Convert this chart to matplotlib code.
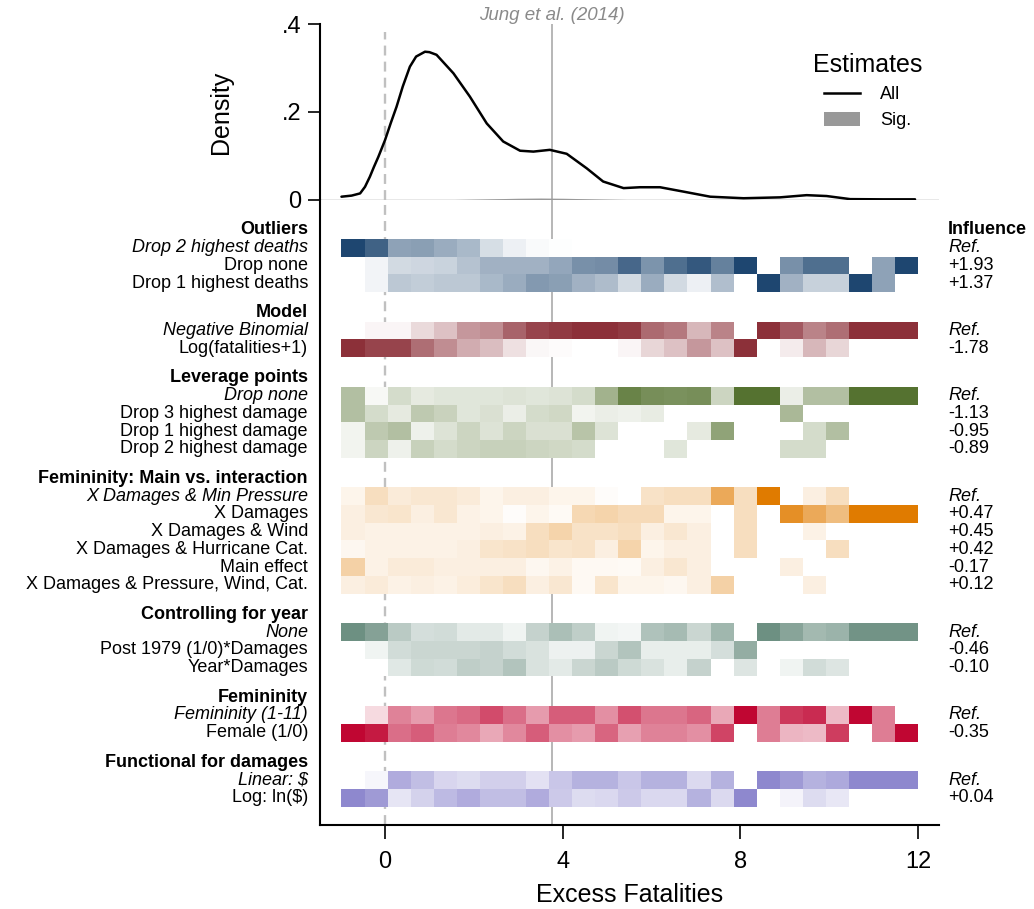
import numpy as np
import matplotlib
matplotlib.use('Agg')
import matplotlib.pyplot as plt
from matplotlib.patches import Patch
from matplotlib.lines import Line2D
from matplotlib.colors import LinearSegmentedColormap
import matplotlib.transforms as mtransforms

plt.rcParams['font.family'] = ['Liberation Sans', 'DejaVu Sans']

N = np.nan

# ---------------- data ----------------
dens_x = [-0.98, -0.75, -0.56, -0.45, -0.34, -0.25, -0.15, 0.0, 0.13, 0.26, 0.4, 0.56, 0.7, 0.9,
          1.0, 1.16, 1.54, 1.91, 2.29, 2.66, 3.04, 3.34, 3.71, 4.09, 4.54, 4.91, 5.37, 5.74,
          6.19, 6.72, 7.32, 8.07, 8.89, 9.49, 9.94, 10.47, 11.2, 11.93]
dens_y = [0.0075, 0.01, 0.015, 0.03, 0.053, 0.075, 0.098, 0.136, 0.175, 0.212, 0.258, 0.303,
          0.326, 0.337, 0.336, 0.33, 0.288, 0.235, 0.174, 0.133, 0.112, 0.11, 0.114, 0.105,
          0.072, 0.042, 0.027, 0.029, 0.029, 0.019, 0.0075, 0.004, 0.006, 0.011, 0.009,
          0.002, 0.0015, 0.0015]
sig_x = [1.0, 1.5, 2.0, 2.5, 3.0, 3.5, 4.0, 4.5, 5.0, 5.5, 6.0]
sig_y = [0.0, 0.001, 0.002, 0.003, 0.004, 0.0045, 0.004, 0.003, 0.002, 0.001, 0.0]

bin_lo, bin_hi, n_bins = -0.98, 12.0, 25
jung_x = 3.76

group_titles = ['Outliers', 'Model', 'Leverage points', 'Femininity: Main vs. interaction',
                'Controlling for year', 'Femininity', 'Functional for damages']
group_colors = ['#1E4670', '#8C3039', '#557230', '#E07B00', '#668A7C', '#C00632', '#8E88CE']

outliers_labels = ['Drop 2 highest deaths', 'Drop none', 'Drop 1 highest deaths']
outliers_influence = ['Ref.', '+1.93', '+1.37']
outliers_shade = [
    [1.0, 0.85, 0.5, 0.52, 0.45, 0.38, 0.18, 0.08, 0.03, 0.01, N, N, N, N, N, N, N, N, N, N, N, N, N, N, N],
    [0, 0.06, 0.2, 0.22, 0.24, 0.33, 0.42, 0.42, 0.42, 0.48, 0.6, 0.62, 0.82, 0.58, 0.78, 0.9, 0.68, 1.0, 0, 0.6, 0.78, 0.78, 0, 0.5, 1.0],
    [0, 0.06, 0.3, 0.27, 0.3, 0.3, 0.38, 0.45, 0.55, 0.52, 0.42, 0.36, 0.2, 0.45, 0.2, 0.08, 0.35, 0, 1.0, 0.42, 0.25, 0.25, 1.0, 0.5, N],
]

model_labels = ['Negative Binomial', 'Log(fatalities+1)']
model_influence = ['Ref.', '-1.78']
model_shade = [
    [0, 0.05, 0.05, 0.18, 0.3, 0.5, 0.55, 0.75, 0.9, 0.95, 1.0, 1.0, 0.95, 0.72, 0.65, 0.35, 0.6, 0, 1.0, 0.8, 0.6, 0.7, 1.0, 1.0, 1.0],
    [1.0, 0.9, 0.9, 0.7, 0.55, 0.4, 0.32, 0.15, 0.04, 0.02, 0, 0, 0.05, 0.2, 0.3, 0.5, 0.3, 1.0, 0, 0.1, 0.35, 0.2, N, N, N],
]

leverage_labels = ['Drop none', 'Drop 3 highest damage', 'Drop 1 highest damage', 'Drop 2 highest damage']
leverage_influence = ['Ref.', '-1.13', '-0.95', '-0.89']
leverage_shade = [
    [0.45, 0.05, 0.25, 0.15, 0.18, 0.18, 0.18, 0.2, 0.18, 0.2, 0.25, 0.55, 0.88, 0.8, 0.78, 0.8, 0.3, 1.0, 1.0, 0.12, 0.45, 0.45, 1.0, 1.0, 1.0],
    [0.45, 0.25, 0.15, 0.38, 0.32, 0.18, 0.22, 0.12, 0.25, 0.28, 0.08, 0.12, 0.1, 0.14, N, N, N, N, N, 0.5, N, N, N, N, N],
    [0.08, 0.38, 0.45, 0.1, 0.2, 0.3, 0.2, 0.3, 0.22, 0.22, 0.42, 0.2, N, N, N, 0.15, 0.65, N, N, N, 0.25, 0.45, N, N, N],
    [0.08, 0.3, 0.1, 0.33, 0.25, 0.3, 0.33, 0.33, 0.3, 0.28, 0.25, N, N, N, 0.18, N, N, N, N, 0.25, 0.25, N, N, N, N],
]

femint_labels = ['X Damages & Min Pressure', 'X Damages', 'X Damages & Wind',
                 'X Damages & Hurricane Cat.', 'Main effect', 'X Damages & Pressure, Wind, Cat.']
femint_influence = ['Ref.', '+0.47', '+0.45', '+0.42', '-0.17', '+0.12']
femint_shade = [
    [0.08, 0.25, 0.15, 0.18, 0.18, 0.15, 0.08, 0.12, 0.12, 0.08, 0.08, 0.02, 0, 0.22, 0.25, 0.25, 0.65, 0.25, 1.0, 0, 0.12, 0.25, N, N, N],
    [0.12, 0.18, 0.2, 0.12, 0.18, 0.1, 0.08, 0.02, 0.08, 0.04, 0.3, 0.33, 0.28, 0.28, 0.08, 0.08, 0, 0.25, 0, 0.85, 0.65, 0.5, 1.0, 1.0, 1.0],
    [0.12, 0.1, 0.1, 0.1, 0.1, 0.1, 0.12, 0.1, 0.25, 0.33, 0.22, 0.22, 0.25, 0.12, 0.18, 0.12, 0, 0.25, 0, 0, 0.1, N, N, N, N],
    [0.06, 0.1, 0.1, 0.1, 0.1, 0.12, 0.2, 0.22, 0.25, 0.2, 0.22, 0.12, 0.33, 0.08, 0.12, 0.12, 0, 0.25, 0, 0, 0, 0.25, N, N, N],
    [0.35, 0.1, 0.15, 0.15, 0.12, 0.12, 0.12, 0.12, 0.06, 0.1, 0.05, 0.05, 0.04, 0.12, 0.18, 0.12, N, N, N, 0.12, N, N, N, N, N],
    [0.12, 0.15, 0.1, 0.12, 0.1, 0.14, 0.2, 0.25, 0.12, 0.18, 0.05, 0.2, 0.08, 0.08, 0.06, 0.12, 0.35, N, N, N, 0.12, N, N, N, N],
]

year_labels = ['None', 'Post 1979 (1/0)*Damages', 'Year*Damages']
year_influence = ['Ref.', '-0.46', '-0.10']
year_shade = [
    [0.95, 0.8, 0.45, 0.28, 0.3, 0.18, 0.18, 0.1, 0.38, 0.55, 0.42, 0.1, 0.08, 0.52, 0.58, 0.35, 0.62, 0, 0.95, 0.78, 0.6, 0.65, 0.92, 0.92, 0.92],
    [0, 0.1, 0.3, 0.35, 0.35, 0.35, 0.38, 0.3, 0.25, 0.12, 0.12, 0.35, 0.5, 0.15, 0.15, 0.15, 0.28, 0.7, N, N, N, N, N, N, N],
    [0, 0, 0.2, 0.32, 0.3, 0.42, 0.38, 0.5, 0.25, 0.18, 0.35, 0.45, 0.32, 0.25, 0.15, 0.38, 0, 0.22, 0, 0.1, 0.3, 0.22, N, N, N],
]

fem_labels = ['Femininity (1-11)', 'Female (1/0)']
fem_influence = ['Ref.', '-0.35']
fem_shade = [
    [0, 0.15, 0.5, 0.4, 0.55, 0.6, 0.72, 0.58, 0.4, 0.65, 0.65, 0.45, 0.7, 0.55, 0.55, 0.62, 0.35, 1.0, 0.52, 0.8, 0.85, 0.28, 1.0, 0.52, N],
    [1.0, 0.92, 0.58, 0.65, 0.52, 0.48, 0.35, 0.48, 0.65, 0.45, 0.4, 0.62, 0.38, 0.5, 0.5, 0.45, 0.75, 0, 0.52, 0.3, 0.28, 0.78, 0, 0.52, 1.0],
]

func_labels = ['Linear: $', 'Log: ln($)']
func_influence = ['Ref.', '+0.04']
func_shade = [
    [0, 0.08, 0.7, 0.55, 0.35, 0.3, 0.4, 0.4, 0.25, 0.48, 0.65, 0.65, 0.48, 0.65, 0.65, 0.32, 0.65, 0, 1.0, 0.85, 0.65, 0.72, 1.0, 1.0, 1.0],
    [1.0, 0.85, 0.22, 0.38, 0.58, 0.7, 0.55, 0.55, 0.7, 0.45, 0.3, 0.33, 0.45, 0.33, 0.33, 0.65, 0.32, 1.0, 0, 0.1, 0.3, 0.2, N, N, N],
]

all_labels = [outliers_labels, model_labels, leverage_labels, femint_labels, year_labels, fem_labels, func_labels]
all_influence = [outliers_influence, model_influence, leverage_influence, femint_influence,
                 year_influence, fem_influence, func_influence]
all_shade = [outliers_shade, model_shade, leverage_shade, femint_shade, year_shade, fem_shade, func_shade]

# ---------------- layout ----------------
W, H = 1034, 909
fig = plt.figure(figsize=(W / 100, H / 100), dpi=100)
L, R = 320, 939
ax_top = fig.add_axes([L / W, 1 - 200 / H, (R - L) / W, 176 / H])
ax_bot = fig.add_axes([L / W, 1 - 825 / H, (R - L) / W, 625 / H])

px_per_unit = 44.43
x0_px = 385
xlim = ((L - x0_px) / px_per_unit, (R - x0_px) / px_per_unit)
for ax in (ax_top, ax_bot):
    ax.set_xlim(*xlim)
    for s in ('top', 'right'):
        ax.spines[s].set_visible(False)
    ax.spines['left'].set_linewidth(1.5)

fs_lab = 13
fs_tick = 17

# ---- top: density ----
ax_top.spines['bottom'].set_visible(False)
ax_top.set_ylim(0, 0.4)
ax_top.set_yticks([0, 0.2, 0.4])
ax_top.set_yticklabels(['0', '.2', '.4'])
ax_top.tick_params(axis='y', length=8.6, width=1.2, pad=5, labelsize=fs_tick)
ax_top.set_xticks([])
ax_top.axhline(0, color='#8c8c8c', lw=1.0, zorder=1)
ax_top.axvline(0, ymax=0.955, color='#c0c0c0', lw=1.7, linestyle=(0, (4.2, 2.6)), zorder=1)
ax_top.axvline(jung_x, color='#aaaaaa', lw=1.2, zorder=1)
ax_top.fill_between(sig_x, sig_y, color='#999999', lw=0, zorder=2)
ax_top.plot(dens_x, dens_y, color='black', lw=1.8, zorder=3, solid_capstyle='round',
            solid_joinstyle='round')
ax_top.text(jung_x, 1.051, 'Jung et al. (2014)', transform=mtransforms.blended_transform_factory(
    ax_top.transData, ax_top.transAxes), ha='center', va='center', fontsize=13.5,
    style='italic', color='#8a8a8a')
fig.text(221 / W, 1 - 112 / H, 'Density', rotation=90, ha='center', va='center', fontsize=18)

leg = ax_top.legend(handles=[Line2D([], [], color='black', lw=1.8), Patch(facecolor='#999999', lw=0)],
                    labels=['All', 'Sig.'], title='Estimates', title_fontsize=18, fontsize=13,
                    frameon=False, loc='upper left', bbox_to_anchor=(813 / W, 1 - 53 / H),
                    bbox_transform=fig.transFigure, handlelength=2.0, handleheight=0.8,
                    handletextpad=1.1, labelspacing=0.5, borderpad=0, borderaxespad=0)

# ---- bottom: heat rows ----
gap = 0.68
pos = 0.0
header_pos = []
row_pos = []
for labels in all_labels:
    header_pos.append(pos)
    rows = [pos + 1 + i for i in range(len(labels))]
    row_pos.append(rows)
    pos = rows[-1] + 1 + gap

row_px = 17.7
top_pos = (200 - 230) / row_px
bot_pos = (825 - 230) / row_px
ax_bot.set_ylim(bot_pos, top_pos)
ax_bot.set_yticks([])
ax_bot.spines['bottom'].set_linewidth(1.5)
ax_bot.set_xticks([0, 4, 8, 12])
ax_bot.tick_params(axis='x', length=10, width=1.2, pad=9, labelsize=fs_tick)

ax_bot.axvline(0, color='#c0c0c0', lw=1.7, linestyle=(0, (4.2, 2.6)), zorder=1)
ax_bot.axvline(jung_x, color='#aaaaaa', lw=1.2, zorder=1)

x_edges = np.linspace(bin_lo, bin_hi, n_bins + 1)
trans = mtransforms.blended_transform_factory(ax_bot.transAxes, ax_bot.transData)
xl = -12 / (R - L)
xr = 1 + 9 / (R - L)

for gi, (title, color, labels, infl, shade) in enumerate(zip(group_titles, group_colors, all_labels,
                                                                all_influence, all_shade)):
    cmap = LinearSegmentedColormap.from_list('g%d' % gi, ['#ffffff', color])
    rows = row_pos[gi]
    y_edges = np.array([rows[0] - 0.5 + i for i in range(len(rows) + 1)])
    vals = np.ma.masked_invalid(np.array(shade, dtype=float))
    ax_bot.pcolormesh(x_edges, y_edges, vals, cmap=cmap, vmin=0, vmax=1,
                      edgecolors='none', linewidth=0, zorder=3)
    ax_bot.text(xl, header_pos[gi], title, transform=trans, ha='right', va='center',
                fontsize=fs_lab, fontweight='bold')
    if gi == 0:
        ax_bot.text(xr, header_pos[gi], 'Influence', transform=trans, ha='left', va='center',
                    fontsize=fs_lab, fontweight='bold')
    for ri, (lab, inf) in enumerate(zip(labels, infl)):
        st = 'italic' if ri == 0 else 'normal'
        ax_bot.text(xl, rows[ri], lab, transform=trans, ha='right', va='center',
                    fontsize=fs_lab, style=st)
        ax_bot.text(xr, rows[ri], inf, transform=trans, ha='left', va='center',
                    fontsize=fs_lab, style=st)

fig.text((L + R) / 2 / W, 1 - 895 / H, 'Excess Fatalities', ha='center', va='center', fontsize=18)

fig.savefig('out.png', dpi=100)
